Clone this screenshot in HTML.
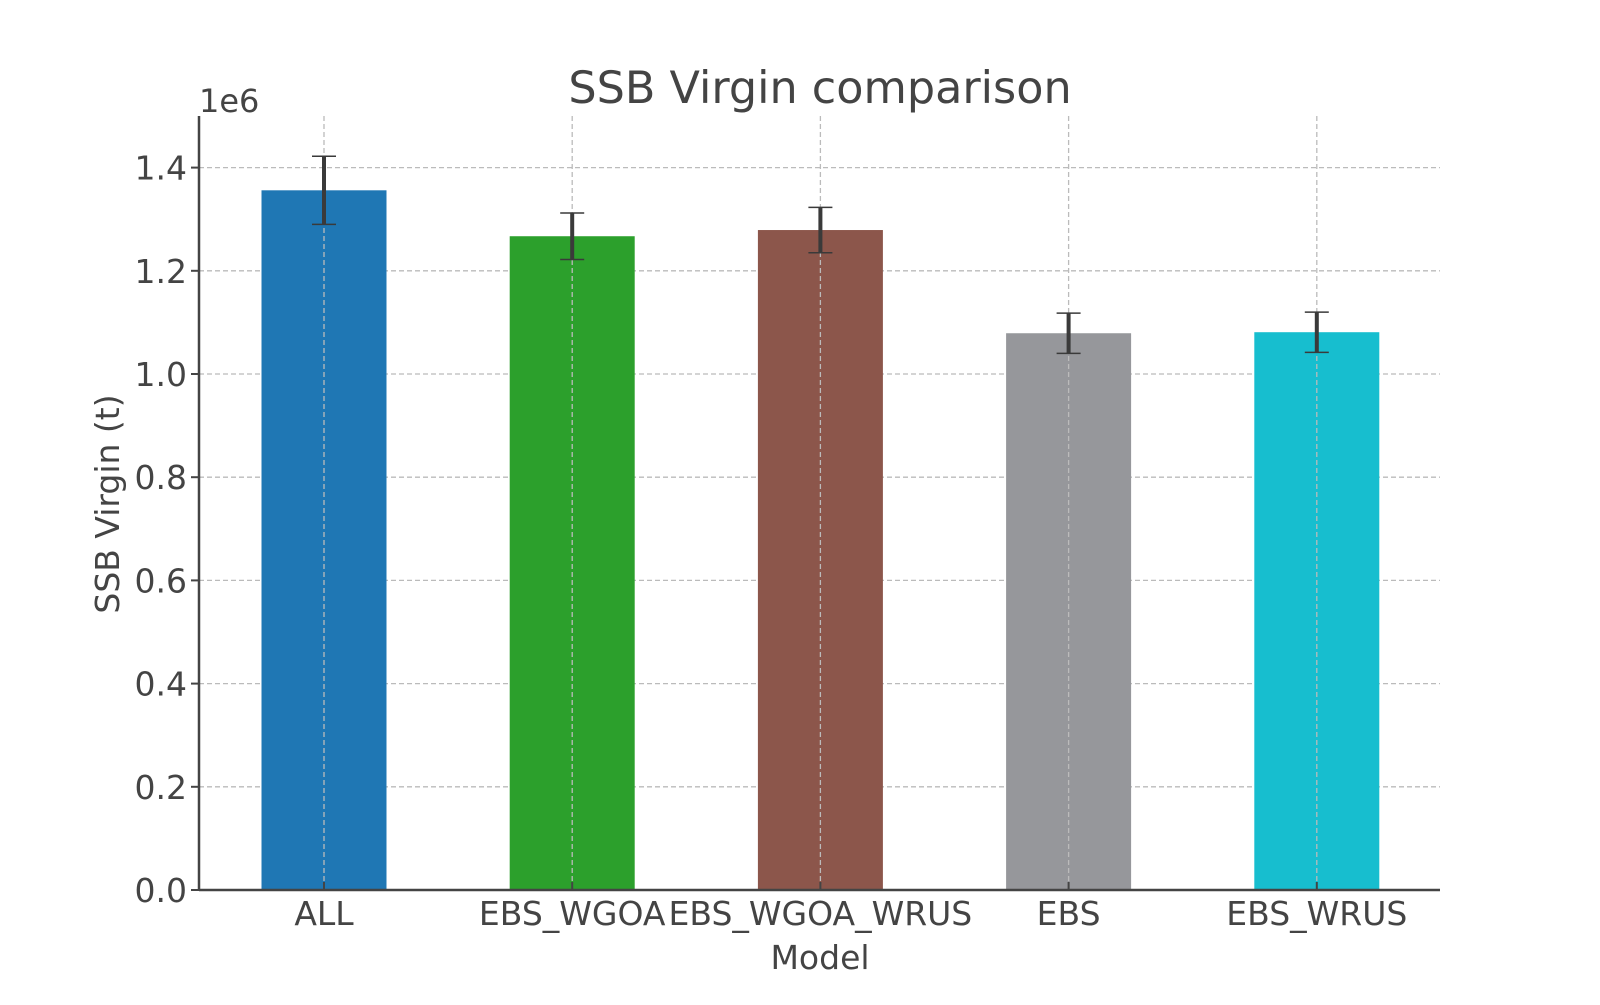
<!DOCTYPE html>
<html><head><meta charset="utf-8"><style>
html,body{margin:0;padding:0;background:#fff;}
svg text{font-family:"DejaVu Sans","Liberation Sans",sans-serif;fill:#444;}
</style></head><body>
<svg id="chart" width="1600" height="1000" viewBox="0 0 1600 1000" xmlns="http://www.w3.org/2000/svg">
<text x="820" y="103" font-size="44.5" text-anchor="middle">SSB Virgin comparison</text>
<text x="199" y="112" font-size="32">1e6</text>
<text transform="translate(119,504) rotate(-90)" font-size="33" text-anchor="middle">SSB Virgin (t)</text>
<text x="820" y="969" font-size="33" text-anchor="middle">Model</text>
<g id="grid"></g><g id="bars"></g><g id="axes"></g>
</svg>
<script>
const categories=["ALL","EBS_WGOA","EBS_WGOA_WRUS","EBS","EBS_WRUS"];
const values=[1.356,1.267,1.279,1.079,1.081];
const errors=[0.066,0.045,0.044,0.039,0.039];
const colors=["#1f77b4","#2ca02c","#8c564b","#96979b","#17becf"];
const yTicks=[0,0.2,0.4,0.6,0.8,1.0,1.2,1.4];
const tickLabels=["0.0","0.2","0.4","0.6","0.8","1.0","1.2","1.4"];
const NS="http://www.w3.org/2000/svg";
const L=199,R=1440,Y0=890,TOP=116;
const y=v=>Y0-v*516;
const x=i=>324+i*248.2;
const bw=125;
function mk(t,a,p){const e=document.createElementNS(NS,t);for(const k in a)e.setAttribute(k,a[k]);p.appendChild(e);return e;}
const grid=document.getElementById('grid'),bars=document.getElementById('bars'),axes=document.getElementById('axes');
yTicks.forEach((v,i)=>{
 if(v>0){const g=mk('line',{x1:L,x2:R,y1:y(v),y2:y(v),stroke:'#bbb','stroke-width':1.3,'stroke-dasharray':'5,3'},grid);
 
 }
 const t=mk('line',{x1:L-8,x2:L,y1:y(v),y2:y(v),stroke:'#444','stroke-width':2},axes);
 
 
 const l=mk('text',{x:L-12,y:y(v)+12,'font-size':33,'text-anchor':'end'},axes);l.textContent=tickLabels[i];
 
 
});
categories.forEach((c,i)=>{
 const b=mk('rect',{x:x(i)-bw/2,y:y(values[i]),width:bw,height:Y0-y(values[i]),fill:colors[i]},bars);
 
 
 const g=mk('line',{x1:x(i),x2:x(i),y1:TOP,y2:Y0,stroke:'#bbb','stroke-width':1.3,'stroke-dasharray':'5,3'},bars);
 
 
 const lo=y(values[i]-errors[i]),hi=y(values[i]+errors[i]);
 const e=mk('g',{stroke:'#3a3a3a'},bars);
 
 
 mk('line',{x1:x(i),x2:x(i),y1:lo,y2:hi,'stroke-width':4},e);
 mk('line',{x1:x(i)-12,x2:x(i)+12,y1:lo,y2:lo,'stroke-width':1.5},e);
 mk('line',{x1:x(i)-12,x2:x(i)+12,y1:hi,y2:hi,'stroke-width':1.5},e);
 const t=mk('line',{x1:x(i),x2:x(i),y1:Y0,y2:Y0-8,stroke:'#444','stroke-width':2},axes);
 
 
 const l=mk('text',{x:x(i),y:925,'font-size':33,'text-anchor':'middle'},axes);l.textContent=c;
 
 
});
const ya=mk('line',{x1:L,x2:L,y1:TOP,y2:Y0+1,stroke:'#444','stroke-width':2.5},axes);


const xa=mk('line',{x1:L,x2:R,y1:Y0,y2:Y0,stroke:'#444','stroke-width':2.5},axes);


</script>
</body></html>
